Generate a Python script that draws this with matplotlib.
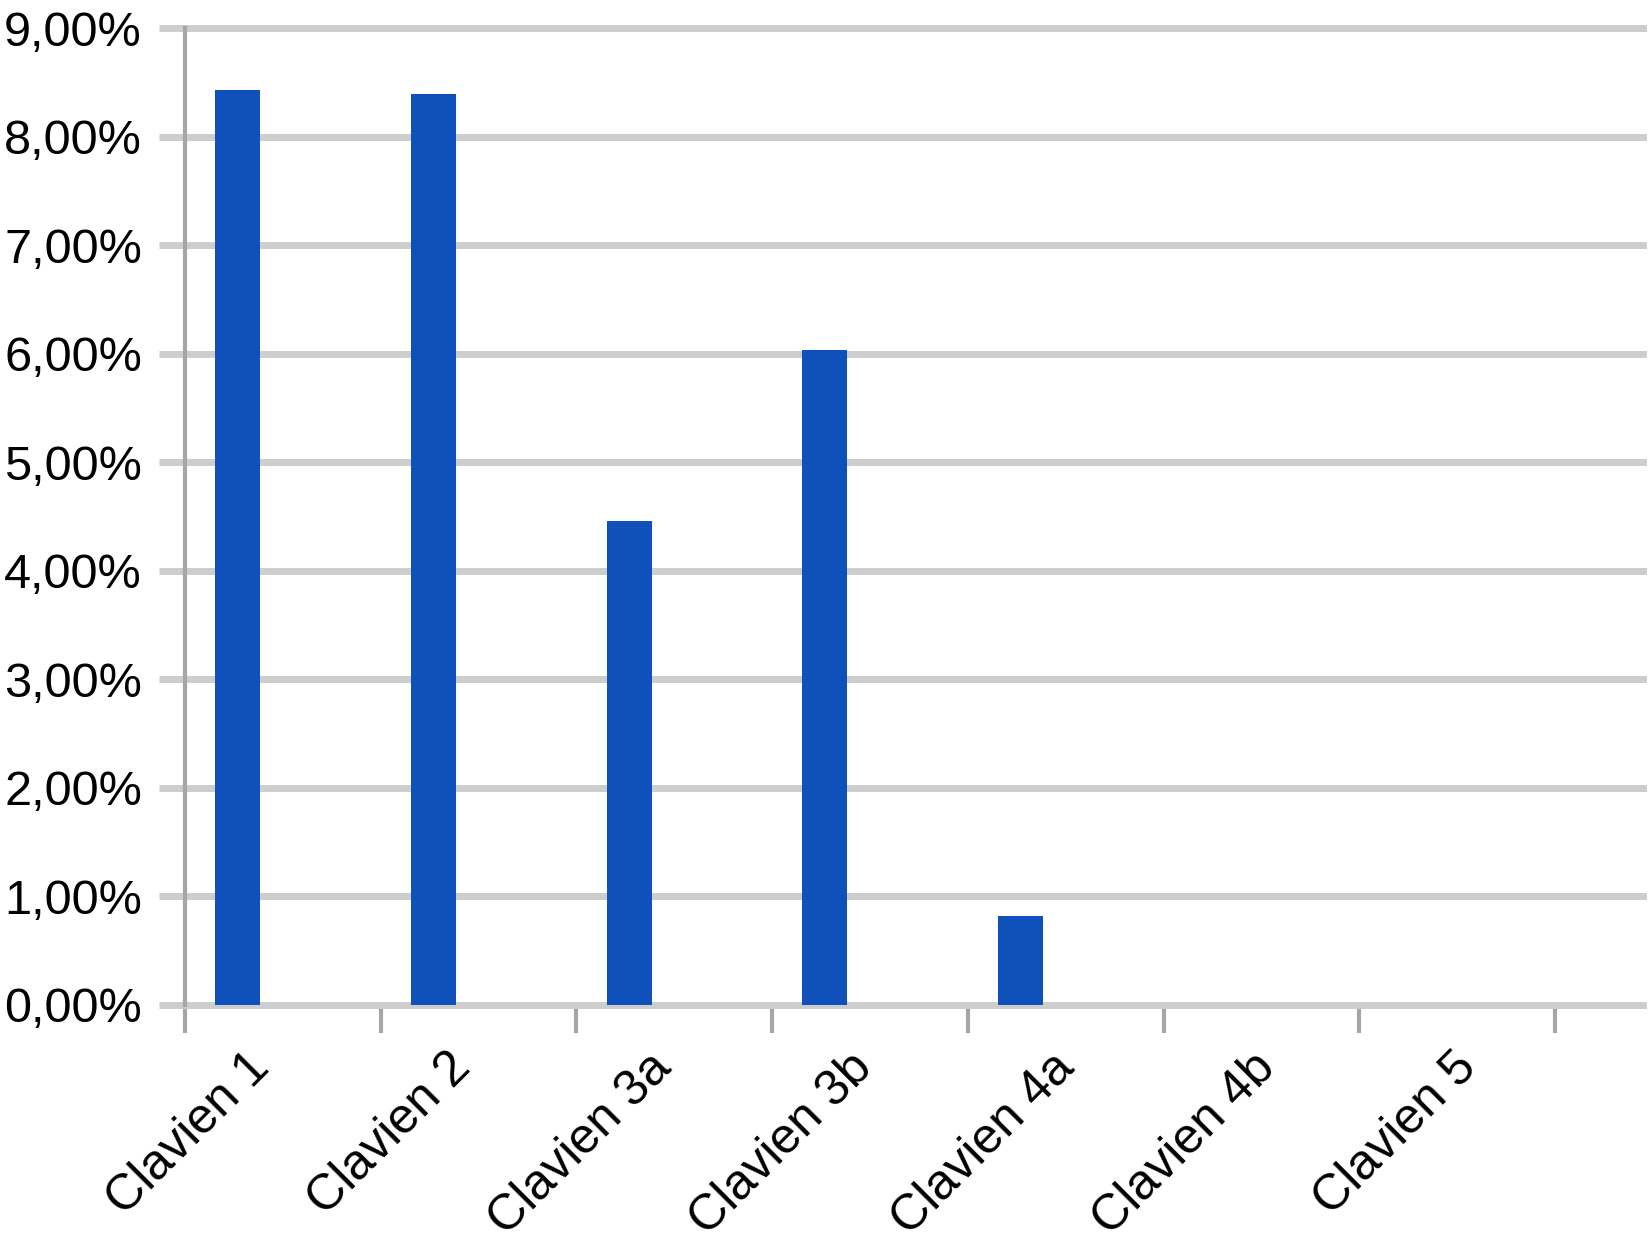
import matplotlib
matplotlib.use("Agg")
import matplotlib.pyplot as plt
from matplotlib.ticker import FixedLocator, FuncFormatter

# valores (%)
categorias = ["Clavien 1", "Clavien 2", "Clavien 3a", "Clavien 3b",
              "Clavien 4a", "Clavien 4b", "Clavien 5"]
porcentajes = [8.43, 8.39, 4.46, 6.03, 0.82, 0.0, 0.0]
y_ticks = [0, 1, 2, 3, 4, 5, 6, 7, 8, 9]

plt.rcParams['font.family'] = ['Liberation Sans', 'DejaVu Sans']

fig = plt.figure(figsize=(16.51, 12.45), dpi=100)
ax = fig.add_axes([185 / 1651, 1 - 1005 / 1245, (1643 - 185) / 1651, (1005 - 28) / 1245])

azul = '#1050BA'
gris_grid = '#cdcdcd'
gris_eje = '#a6a6a6'

pos = [i + 0.27 for i in range(len(categorias))]
ax.bar(pos, porcentajes, width=0.23, color=azul, zorder=3)

ax.set_xlim(0, 7.45)
ax.set_ylim(0, 9)

for s in ['top', 'right', 'bottom']:
    ax.spines[s].set_visible(False)
ax.spines['left'].set_color(gris_eje)
ax.spines['left'].set_linewidth(3)
ax.spines['left'].set_zorder(4)

# eje y
ax.set_yticks(y_ticks)
ax.yaxis.set_major_formatter(FuncFormatter(lambda v, p: f"{v:.2f}%".replace('.', ',')))
ax.tick_params(axis='y', length=19, width=5, color=gris_grid, pad=12, labelsize=35)
ax.grid(axis='y', color=gris_grid, linewidth=5, zorder=1)
ax.set_axisbelow(True)
for l in ax.get_ygridlines():
    l.set_clip_on(False)

# eje x: marcas en los limites de categoria, etiquetas giradas
ax.xaxis.set_minor_locator(FixedLocator(list(range(len(categorias) + 1))))
ax.tick_params(axis='x', which='minor', length=20, width=3, color=gris_eje)
lab_pos = [0.31 + i * 1.028 for i in range(len(categorias))]
ax.set_xticks(lab_pos)
ax.set_xticklabels(categorias, rotation=45, ha='right', rotation_mode='anchor')
ax.tick_params(axis='x', which='major', length=0, pad=28, labelsize=36)

fig.savefig("out.png", dpi=100, facecolor='white')
